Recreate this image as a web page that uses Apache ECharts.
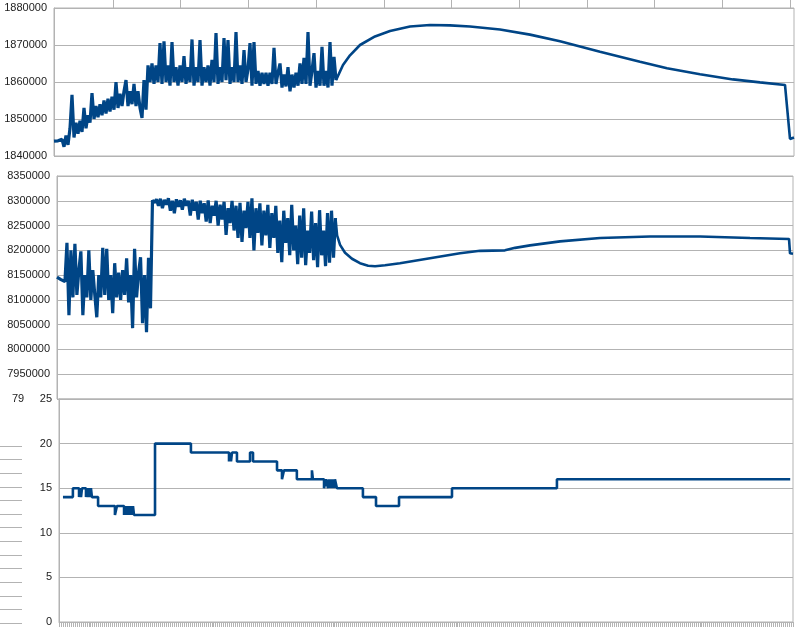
<!DOCTYPE html>
<html>
<head>
<meta charset="utf-8">
<script src="https://cdn.jsdelivr.net/npm/echarts@6/dist/echarts.min.js"></script>
<style>
html,body{margin:0;padding:0;background:#fff;}
#c{width:800px;height:631px;}
</style>
</head>
<body>
<div id="c"></div>
<script>
// ---------- DATA ----------
// Top panel: noisy section sampled every index step starting at t=0, then smooth section
var topNoise = [
1844000,1844000,1844100,1844300,1844500,1842500,1845500,1843000,1847500,1856500,
1845000,1849000,1846000,1849500,1846500,1853000,1847500,1851000,1849000,1857000,
1850000,1853500,1850500,1854000,1851000,1855000,1851500,1855500,1852000,1856000,
1852500,1860000,1853000,1856800,1853500,1857500,1860500,1853500,1857500,1854000,
1859500,1853500,1857500,1853000,1850300,1860500,1852500,1864500,1860000,1865000,
1859500,1864500,1860000,1870500,1859500,1871000,1860000,1864500,1859000,1870800,
1860000,1864000,1859000,1864500,1860000,1867000,1859500,1864000,1860000,1871500,
1859000,1864000,1860000,1871300,1859000,1864000,1860000,1864500,1859000,1866000,
1860000,1873200,1859500,1864000,1860000,1871900,1860500,1871300,1859500,1864000,
1860000,1873500,1860000,1864500,1859500,1868600,1860000,1863500,1870500,1859000,
1870800,1859500,1863000,1859000,1862500,1859500,1862500,1859000,1862500,1859500,
1869200,1859500,1862500,1865000,1858500,1862000,1858800,1864000,1857500,1862000,
1858500,1862500,1859000,1865000,1859500,1866500,1859500,1873500,1859000,1863000,
1867800,1858500,1863000,1859000,1869500,1859000,1863000,1858500,1870800,1859000,
1866800,1860500
];
var topSmoothT = [144.5,148,153,160.5,168,178,188,198,208,223,238,253,273,293,306.5,323,339.5,353,365.5,368,370];
var topSmoothV = [1864600,1867200,1870000,1872300,1873800,1875000,1875400,1875300,1875000,1874200,1872800,1871000,1868200,1865500,1863700,1862100,1860700,1859900,1859200,1844600,1845000];

// Middle panel
var midNoise = [
8146000,8144000,8141000,8138000,8137000,8215000,8069000,8200000,8105000,8213000,
8110000,8160000,8198000,8069000,8150000,8105000,8200000,8100000,8160000,8110000,
8065000,8150000,8105000,8205000,8110000,8203000,8100000,8150000,8073000,8174000,
8105000,8155000,8100000,8160000,8110000,8184000,8095000,8150000,8043000,8203000,
8105000,8155000,8186000,8053000,8150000,8035000,8185000,8083000,8301000,8296000,
8303000,8290000,8304000,8285000,8302000,8292000,8305000,8280000,8300000,8275000,
8303000,8288000,8301000,8282000,8304000,8290000,8300000,8270000,8302000,8280000,
8298000,8262000,8300000,8275000,8295000,8258000,8301000,8255000,8290000,8270000,
8300000,8250000,8292000,8262000,8298000,8231000,8285000,8255000,8300000,8240000,
8290000,8225000,8296000,8217000,8280000,8245000,8298000,8225000,8305000,8200000,
8285000,8235000,8295000,8210000,8280000,8230000,8292000,8205000,8275000,8225000,
8290000,8195000,8260000,8176000,8280000,8215000,8265000,8190000,8292000,8200000,
8250000,8172000,8270000,8185000,8285000,8170000,8240000,8195000,8278000,8180000,
8255000,8166000,8281000,8190000,8240000,8168000,8275000,8175000,8280000,8185000,
8265000
];
var midSmoothT = [140.8,142.3,144.8,148.3,152.3,156.4,159.9,164.9,172.4,187.5,202.6,212.7,225.2,230.3,237.8,252.9,273.0,298.1,323.3,348.4,368.0,368.5,370];
var midSmoothV = [8230000,8211000,8195000,8183000,8174000,8169000,8168000,8170000,8174000,8184000,8194000,8199000,8200000,8205000,8210000,8218000,8225000,8228000,8228000,8225000,8223000,8194000,8193000];

// Bottom panel: [index, value] steps, each value holds until the next index
var botSteps = [
 [2,14],[7,15],
 [10.1,14],[10.6,15],[11.1,14],[11.6,15],
 [13.6,14],[14.1,15],[14.6,14],[15.1,15],[15.6,14],[16.1,15],
 [16.6,14],[19.7,13],[28.2,12],[29.2,13],
 [32.8,12],[33.3,13],[33.8,12],[34.3,13],[34.8,12],[35.3,13],[35.8,12],[36.3,13],[36.8,12],[37.3,13],[37.8,12],
 [48.4,20],[66.5,19],
 [85.7,18],[86.2,19],[86.7,18],[87.2,19],
 [89.7,18],[96.3,19],[97.8,18],
 [109.9,17],[112.4,16],[113.4,17],
 [119.9,16],[127.5,17],[128.0,16],
 [133.6,15],[134.6,16],[135.6,15],[136.1,16],[136.6,15],[137.1,16],[137.6,15],[138.1,16],[138.6,15],[139.1,16],[140.1,15],
 [153.2,14],[159.8,13],[171.4,14],[198.1,15],[251.0,16],[368.6,16]
];

var topTicks = {min:1840000, max:1880000, step:10000};
var midTicks = {min:7900000, max:8350000, step:50000};
var botTicks = {min:0, max:25, step:5};

// ---------- BUILD ----------
function noisePairs(noise){
  var out = [];
  for (var i=0;i<noise.length;i++) out.push([i, noise[i]]);
  return out;
}
function smoothPairs(noise, st, sv){
  var out = [[noise.length-1, noise[noise.length-1]]];
  for (var j=0;j<st.length;j++) out.push([st[j], sv[j]]);
  return out;
}

var GRID = '#b3b3b3';
var LINE = '#004586';
var FONT = 'Liberation Sans, Arial, sans-serif';
var labelStyle = {color:'#222', fontSize:11, fontFamily:FONT, margin:7,
  formatter:function(v){return String(v);}};

function yAx(idx, t, extra){
  var a = {
    type:'value', gridIndex:idx, min:t.min, max:t.max, interval:t.step,
    axisLine:{show:true, lineStyle:{color:GRID, width:1}},
    axisTick:{show:false},
    axisLabel:Object.assign({}, labelStyle),
    splitLine:{show:true, lineStyle:{color:GRID, width:1}}
  };
  return Object.assign(a, extra||{});
}
function xHidden(idx){
  return {type:'value', gridIndex:idx, min:0, max:370, show:false};
}

var chart = echarts.init(document.getElementById('c'), null, {renderer:'canvas'});
chart.setOption({
  animation:false,
  backgroundColor:'#ffffff',
  grid:[
    {left:54, right:6, top:8, height:148, show:true, borderColor:GRID, borderWidth:1},
    {left:57, right:7, top:176, height:223, show:true, borderColor:GRID, borderWidth:1},
    {left:59, right:7, top:399, height:223, show:true, borderColor:GRID, borderWidth:1},
    {left:113, right:10, top:0, height:8},
    {left:0, width:22, top:446, height:177}
  ],
  xAxis:[
    xHidden(0),
    xHidden(1),
    {type:'value', gridIndex:2, min:0, max:370, interval:1,
     axisLine:{show:true, lineStyle:{color:GRID}},
     axisTick:{show:true, length:5, lineStyle:{color:GRID}},
     axisLabel:{show:false}, splitLine:{show:false}},
    {type:'value', gridIndex:3, min:0, max:10, interval:1,
     axisLine:{show:false}, axisTick:{show:false}, axisLabel:{show:false},
     splitLine:{show:true, lineStyle:{color:GRID}}},
    {type:'value', gridIndex:4, min:0, max:1, show:false}
  ],
  yAxis:[
    yAx(0, topTicks),
    yAx(1, midTicks, {axisLabel:Object.assign({}, labelStyle, {showMinLabel:false})}),
    yAx(2, botTicks),
    {type:'value', gridIndex:3, min:0, max:1, show:false},
    {type:'value', gridIndex:4, min:0, max:13, interval:1,
     axisLine:{show:false}, axisTick:{show:false}, axisLabel:{show:false},
     splitLine:{show:true, lineStyle:{color:GRID}}}
  ],
  graphic:[
    {type:'text', left:12, top:393, style:{text:'79', fill:'#222', font:'11px ' + FONT}}
  ],
  series:[
    {type:'line', xAxisIndex:0, yAxisIndex:0, data:noisePairs(topNoise), showSymbol:false,
     lineStyle:{color:LINE, width:3.2}, z:3},
    {type:'line', xAxisIndex:0, yAxisIndex:0, data:smoothPairs(topNoise, topSmoothT, topSmoothV), showSymbol:false,
     lineStyle:{color:LINE, width:2.6}, z:3},
    {type:'line', xAxisIndex:1, yAxisIndex:1, data:noisePairs(midNoise), showSymbol:false,
     lineStyle:{color:LINE, width:3.2}, z:3},
    {type:'line', xAxisIndex:1, yAxisIndex:1, data:smoothPairs(midNoise, midSmoothT, midSmoothV), showSymbol:false,
     lineStyle:{color:LINE, width:2.6}, z:3},
    {type:'line', xAxisIndex:2, yAxisIndex:2, data:botSteps, showSymbol:false, step:'end',
     lineStyle:{color:LINE, width:2.6}, z:3}
  ]
});
</script>
</body>
</html>
